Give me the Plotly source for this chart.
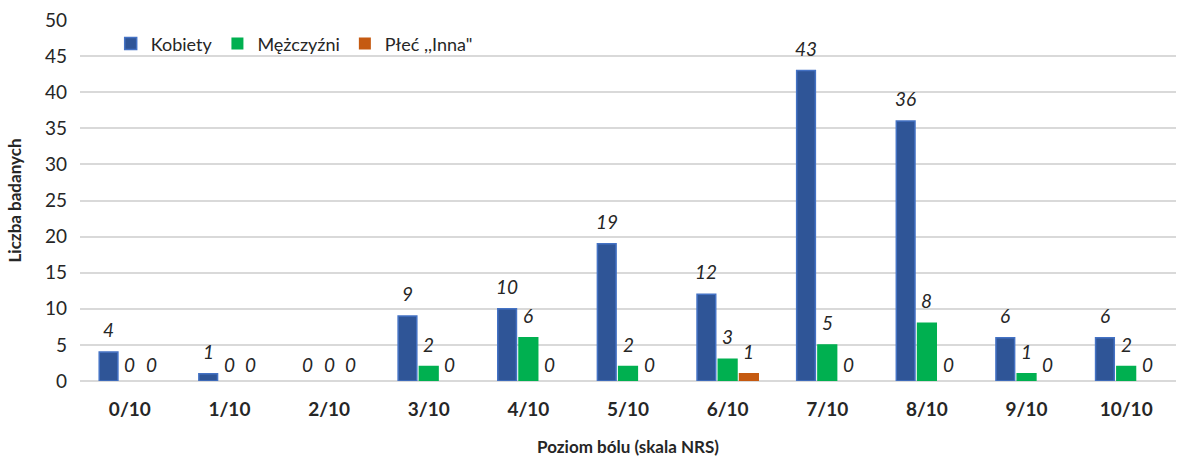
import plotly.graph_objects as go

categories = ["0/10", "1/10", "2/10", "3/10", "4/10", "5/10", "6/10", "7/10", "8/10", "9/10", "10/10"]
kobiety = [4, 1, 0, 9, 10, 19, 12, 43, 36, 6, 6]
mezczyzni = [0, 0, 0, 2, 6, 2, 3, 5, 8, 1, 2]
inna = [0, 0, 0, 0, 0, 0, 1, 0, 0, 0, 0]

series = [
    ("Kobiety", kobiety, "#2F5597", "#4472C4"),
    ("Mężczyźni", mezczyzni, "#00B050", "#00B050"),
    ('Płeć ,,Inna"', inna, "#C55A11", "#C55A11"),
]

FONT = "Lato, Carlito, Calibri, sans-serif"
BARGAP = 0.36
PLOT_W = 1178 - 80 - 2
slot = PLOT_W / len(categories) * (1 - BARGAP) / len(series)

fig = go.Figure()
for i, (name, vals, color, edge) in enumerate(series):
    fig.add_trace(go.Bar(
        x=categories, y=vals, name=name,
        marker=dict(color=color,
                    line=dict(color=edge, width=[1.5 if v else 0 for v in vals])),
    ))
    for c, v in zip(categories, vals):
        # Excel puts labels of empty bars a bit lower
        fig.add_annotation(
            x=c, y=v, text=str(v), showarrow=False,
            xshift=(i - 1) * slot, yshift=9 if v else 3, yanchor="bottom",
            font=dict(family=FONT, size=19, color="#262626", style="italic"),
        )

fig.update_layout(
    barmode="group",
    bargap=BARGAP,
    bargroupgap=0.12,
    width=1178, height=457,
    margin=dict(l=80, r=2, t=20, b=76),
    plot_bgcolor="white", paper_bgcolor="white",
    font=dict(family=FONT, size=18, color="#262626"),
    legend=dict(
        orientation="h", x=0.028, y=0.985, xanchor="left", yanchor="top",
        font=dict(family=FONT, size=18, color="#262626"),
        traceorder="normal", bgcolor="rgba(0,0,0,0)",
    ),
)
fig.update_yaxes(
    range=[0, 50], dtick=5, showgrid=True, gridcolor="#D9D9D9", gridwidth=2,
    zeroline=True, zerolinecolor="#D9D9D9", zerolinewidth=2, showline=False,
    tickfont=dict(size=19), ticks="", ticklabelstandoff=12, automargin=False,
    title=dict(text="<b>Liczba badanych</b>", font=dict(size=17), standoff=19),
)
fig.update_xaxes(
    showline=False, ticks="", automargin=False, ticklabelstandoff=15,
    tickfont=dict(size=19, weight="bold"),
    title=dict(text="<b>Poziom bólu (skala NRS)</b>", font=dict(size=17), standoff=24),
)

fig.write_html("out.html", config={"displayModeBar": False},
               post_script="document.body.style.margin='0';")
